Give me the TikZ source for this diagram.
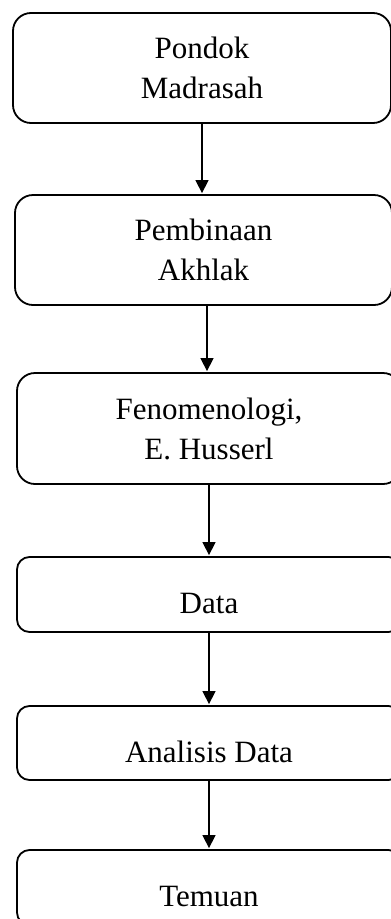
\documentclass[tikz,border=0pt]{standalone}
\usepackage{fontspec}
\setmainfont{Liberation Serif}
\usetikzlibrary{arrows.meta}
\begin{document}
\begin{tikzpicture}[x=1pt,y=-1pt,font=\fontsize{31}{40}\selectfont,
	stepbox/.style={draw,line width=1.8pt,rounded corners=18pt,align=center,minimum height=110pt},
	flatbox/.style={stepbox,rounded corners=12.5pt,minimum height=75pt,text height=38pt,text depth=0pt},
	arr/.style={line width=1.4pt,-{Triangle[width=13pt,length=13pt]},shorten >=1pt}]
	\useasboundingbox (0,0) rectangle (391,919);
	\clip (0,0) rectangle (391,919);
	\node[stepbox,minimum width=378pt] (pondok) at (202,68) {Pondok\\Madrasah};
	\node[stepbox,minimum width=377pt] (akhlak) at (203.5,250) {Pembinaan\\Akhlak};
	\node[stepbox,minimum width=384pt,minimum height=111pt] (husserl) at (209,428.5) {Fenomenologi,\\E. Husserl};
	\node[flatbox,minimum width=384pt] (data) at (209,594.5) {Data};
	\node[flatbox,minimum width=384pt,minimum height=74pt] (analisis) at (209,743) {Analisis Data};
	\node[flatbox,minimum width=384pt] (temuan) at (209,887.5) {Temuan};
	\draw[arr] (pondok.south) -- (pondok.south |- akhlak.north);
	\draw[arr] ([xshift=3.5pt]akhlak.south) -- ([xshift=3.5pt]akhlak.south |- husserl.north);
	\draw[arr] (husserl) -- (data);
	\draw[arr] (data) -- (analisis);
	\draw[arr] (analisis) -- (temuan);
\end{tikzpicture}
\end{document}
